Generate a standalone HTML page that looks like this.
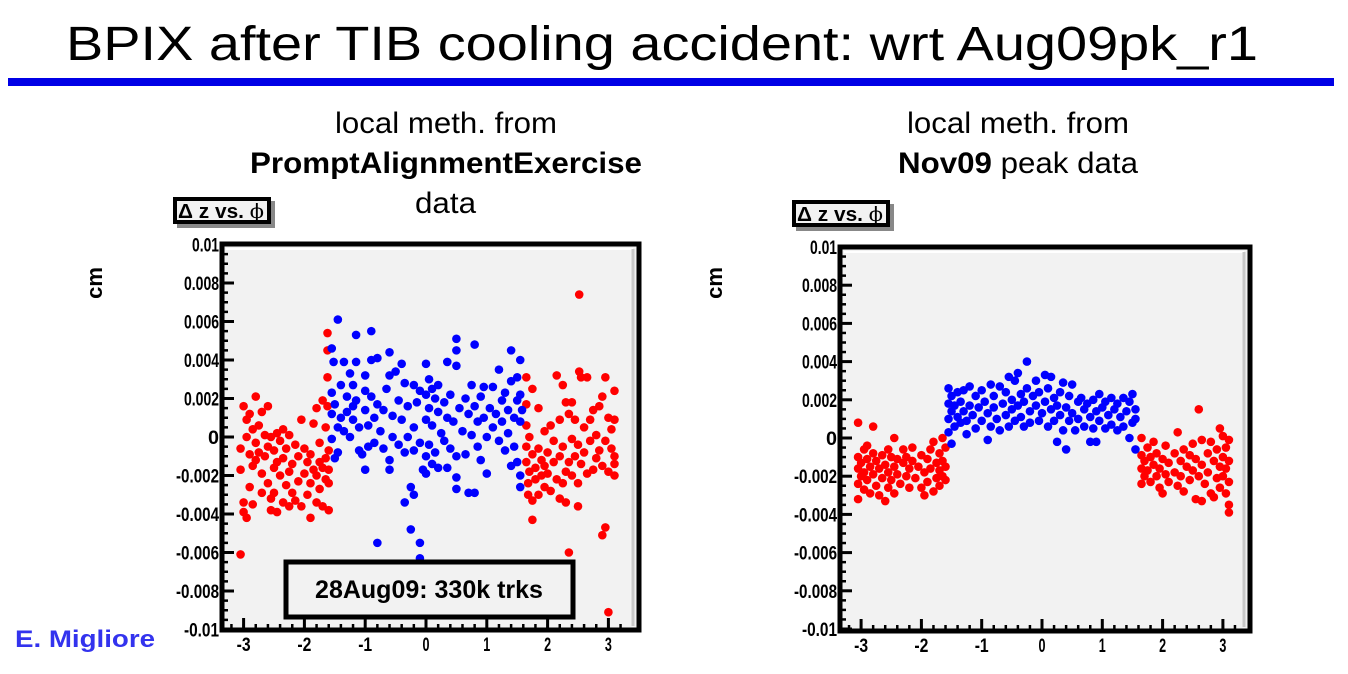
<!DOCTYPE html>
<html><head><meta charset="utf-8">
<style>
html,body{margin:0;padding:0;background:#fff;}
svg{display:block;font-family:"Liberation Sans",Arial,sans-serif;}
</style></head>
<body>
<svg id="page" width="1348" height="674" viewBox="0 0 1348 674" xmlns="http://www.w3.org/2000/svg">
<text x="66" y="60" font-size="48" textLength="1192" lengthAdjust="spacingAndGlyphs">BPIX after TIB cooling accident: wrt Aug09pk_r1</text>
<rect x="8" y="78" width="1326" height="8" fill="#0000e6"/>
<g font-size="30">
<text x="335" y="133" textLength="222" lengthAdjust="spacingAndGlyphs">local meth. from</text>
<text x="250" y="173" font-weight="bold" textLength="392" lengthAdjust="spacingAndGlyphs">PromptAlignmentExercise</text>
<text x="415" y="213" textLength="61" lengthAdjust="spacingAndGlyphs">data</text>
</g>
<g font-size="30">
<text x="907" y="133" textLength="222" lengthAdjust="spacingAndGlyphs">local meth. from</text>
<text x="898" y="173" textLength="240" lengthAdjust="spacingAndGlyphs"><tspan font-weight="bold">Nov09</tspan> peak data</text>
</g>
<text x="15" y="647" font-size="24" font-weight="bold" fill="#3333ee" textLength="140" lengthAdjust="spacingAndGlyphs">E. Migliore</text>
<g id="left"></g>
<g id="right"></g>
</svg>
<script>
// Left plot data: phi (rad), dz (in units of 1e-3 cm)
const leftRedPhi=[-3.05,-3.05,-3.0,-3.0,-3.0,-2.95,-3.05,-2.95,-2.95,-2.9,-2.9,-2.9,-2.85,-2.85,-2.85,-2.8,-2.8,-2.8,-2.75,-2.75,-2.7,-2.7,-2.7,-2.65,-2.65,-2.6,-2.6,-2.6,-2.55,-2.55,-2.55,-2.5,-2.5,-2.5,-2.45,-2.45,-2.45,-2.4,-2.4,-2.35,-2.35,-2.35,-2.3,-2.3,-2.25,-2.25,-2.25,-2.2,-2.2,-2.15,-2.15,-2.1,-2.1,-2.05,-2.05,-2.0,-2.0,-1.95,-1.95,-1.9,-1.9,-1.9,-1.85,-1.85,-1.8,-1.8,-1.8,-1.75,-1.75,-1.75,-1.7,-1.7,-1.7,-1.65,-1.65,-1.65,-1.62,-1.62,-1.62,-1.62,-1.6,-1.6,-1.6,-1.6,
1.65,1.65,1.65,1.65,1.65,1.68,1.68,1.7,1.7,1.75,1.75,1.75,1.75,1.8,1.8,1.85,1.85,1.85,1.9,1.9,1.95,1.95,1.95,2.0,2.0,2.05,2.05,2.1,2.1,2.15,2.15,2.2,2.2,2.2,2.25,2.25,2.25,2.3,2.3,2.3,2.35,2.35,2.35,2.4,2.4,2.4,2.45,2.45,2.5,2.5,2.5,2.52,2.52,2.55,2.55,2.6,2.6,2.65,2.65,2.7,2.7,2.75,2.75,2.8,2.8,2.85,2.85,2.9,2.9,2.9,2.95,2.95,2.95,3.0,3.0,3.0,3.05,3.05,3.1,3.1,3.1,3.1,3.1];
const leftRedDz=[-0.6,-1.7,1.6,-3.4,-3.9,-4.2,-6.1,0.9,0.0,-0.9,-2.6,1.2,0.4,-1.5,-3.5,2.1,-0.3,-1.2,0.6,-0.8,1.3,-1.9,-2.9,0.1,-1.0,1.6,-0.5,-2.4,0.0,-3.2,-3.8,-1.6,-0.7,-2.9,0.2,-1.3,-3.9,-0.2,-2.0,0.4,-1.1,-3.4,-0.6,-2.5,-1.8,0.1,-3.6,-1.4,-2.9,-0.4,-3.3,-1.0,-2.3,0.9,-3.6,-1.9,-0.6,-3.0,-1.3,-0.9,-2.4,-4.2,0.7,-1.7,-3.4,-2.0,1.5,-1.3,-0.3,-2.7,1.9,-1.6,-3.6,0.5,-2.2,-1.1,5.4,4.5,3.1,1.6,-0.7,-2.4,-3.8,-1.7,
3.1,1.7,0.6,-0.5,-1.3,-2.4,-3.0,-1.8,0.0,2.5,-0.9,-3.3,-4.3,-1.6,-2.2,1.5,-0.6,-3.0,-1.2,-2.0,0.3,-1.5,-2.6,-0.8,-1.9,0.6,-2.8,-1.3,-0.2,-2.2,3.2,-3.2,0.9,-1.0,2.7,-0.5,-2.4,1.8,-1.8,-3.4,1.2,-1.3,-6.0,-0.1,-2.0,1.8,-1.0,0.9,-0.4,-2.4,-3.6,7.4,3.4,3.1,-1.4,0.5,-0.8,3.1,-1.9,0.9,-0.2,1.4,-1.7,0.1,-1.1,1.6,-0.7,2.1,-1.5,-5.1,3.1,-4.7,-0.2,-9.1,1.0,-1.8,0.4,-0.6,2.4,-1.0,-2.0,0.9,-1.4];
const leftBluePhi=[-1.55,-1.55,-1.55,-1.55,-1.52,-1.5,-1.5,-1.45,-1.45,-1.45,-1.4,-1.4,-1.35,-1.35,-1.3,-1.3,-1.25,-1.25,-1.2,-1.2,-1.2,-1.15,-1.15,-1.15,-1.1,-1.1,-1.05,-1.0,-1.0,-1.0,-1.0,-0.95,-0.95,-0.9,-0.9,-0.9,-0.85,-0.85,-0.8,-0.8,-0.8,-0.75,-0.7,-0.7,-0.65,-0.6,-0.6,-0.6,-0.6,-0.55,-0.55,-0.5,-0.45,-0.45,-0.4,-0.4,-0.35,-0.35,-0.35,-0.3,-0.3,-0.25,-0.25,-0.2,-0.2,-0.2,-0.2,-0.15,-0.1,-0.1,-0.1,-0.1,-0.05,0.0,0.0,0.0,0.0,0.0,0.05,0.05,0.05,0.1,0.1,0.1,0.15,0.15,0.2,0.2,0.2,0.25,0.3,0.3,0.35,0.35,0.35,0.4,0.4,0.45,0.5,0.5,0.5,0.5,0.5,0.5,0.55,0.6,0.65,0.65,0.7,0.7,0.75,0.75,0.8,0.8,0.8,0.85,0.85,0.9,0.9,0.95,0.95,1.0,1.0,1.05,1.1,1.1,1.15,1.2,1.2,1.25,1.25,1.3,1.3,1.35,1.35,1.4,1.4,1.4,1.45,1.45,1.5,1.5,1.5,1.55,1.55,1.55,1.55,1.55,1.58];
const leftBlueDz=[4.6,2.3,1.2,-0.1,3.9,1.7,-1.1,6.1,0.5,-0.8,2.7,1.0,3.9,0.3,2.1,1.3,3.3,0.0,2.7,1.6,0.9,5.3,3.9,1.9,0.5,-0.7,-0.9,3.2,2.4,1.4,-1.7,0.6,-0.5,5.5,4.0,2.1,1.0,-0.3,1.7,4.1,-5.5,0.3,1.4,-0.6,2.5,4.4,3.2,-1.2,-1.7,1.1,0.0,3.4,1.9,-0.4,3.8,0.9,2.8,-0.8,-3.4,1.6,0.0,-2.6,-4.8,2.7,0.5,-0.7,-3.0,1.8,-0.3,2.4,-5.5,-6.3,-1.7,3.8,2.2,0.9,-1.0,-1.9,3.0,1.5,-0.4,2.5,0.6,-1.4,2.0,-0.8,1.3,2.7,-1.6,0.2,1.8,-0.2,3.9,1.0,-1.6,2.2,-0.6,0.8,5.1,4.5,3.7,-1.0,-2.1,-2.7,1.5,0.3,2.0,-0.9,1.2,-2.9,2.7,0.1,4.8,1.6,-2.9,-0.5,0.8,2.1,-1.2,1.0,2.6,0.0,-1.9,1.5,2.6,0.5,1.2,3.5,-0.2,1.9,0.8,-0.7,2.3,1.4,0.2,4.5,2.9,-1.5,1.0,-0.5,3.1,1.9,-1.3,4.0,2.2,0.8,-2.0,-2.6,1.4];
// Right plot data
const rightRedPhi=[-3.05,-3.05,-3.05,-3.05,-3.05,-3.0,-3.0,-2.95,-2.95,-2.95,-2.9,-2.9,-2.85,-2.85,-2.8,-2.8,-2.8,-2.75,-2.75,-2.7,-2.7,-2.65,-2.65,-2.6,-2.6,-2.55,-2.55,-2.5,-2.5,-2.45,-2.45,-2.45,-2.4,-2.4,-2.35,-2.3,-2.3,-2.25,-2.2,-2.2,-2.15,-2.15,-2.1,-2.05,-2.0,-2.0,-1.95,-1.95,-1.9,-1.9,-1.85,-1.85,-1.8,-1.8,-1.75,-1.75,-1.7,-1.7,-1.7,-1.65,-1.65,-1.65,-1.6,-1.6,-1.6,-2.25,-2.55,-2.9,
1.65,1.65,1.65,1.65,1.7,1.7,1.75,1.75,1.8,1.8,1.85,1.85,1.9,1.9,1.95,1.95,2.0,2.0,2.05,2.05,2.1,2.1,2.2,2.2,2.25,2.25,2.3,2.3,2.35,2.35,2.4,2.45,2.45,2.5,2.5,2.55,2.55,2.6,2.6,2.65,2.65,2.65,2.7,2.75,2.75,2.8,2.8,2.85,2.85,2.9,2.9,2.95,2.95,2.95,3.0,3.0,3.0,3.05,3.05,3.05,3.1,3.1,3.1,3.1,3.1];
const rightRedDz=[0.8,-1.0,-1.6,-2.4,-3.2,-1.3,-2.0,-0.6,-1.8,-2.7,-1.1,-2.2,-1.5,-2.9,0.6,-0.8,-1.9,-1.2,-2.5,-1.6,-3.0,-0.9,-2.1,-1.4,-3.3,-1.8,-2.6,-1.0,-2.2,0.0,-1.5,-2.9,-1.9,-1.1,-2.4,-1.3,-0.6,-2.0,-1.6,-2.6,-0.5,-1.2,-2.1,-1.5,-2.6,-0.9,-1.8,-3.0,-1.1,-2.3,-0.6,-1.6,-2.8,-0.2,-1.3,-2.1,-0.8,-1.7,-2.5,0.0,-1.2,-2.0,-0.5,-1.5,-2.2,-1.0,-0.6,-0.4,
0.0,-0.9,-1.6,-2.4,-1.2,-2.0,-0.5,-1.7,-2.3,-1.0,-1.4,-0.2,-2.0,-0.8,-1.6,-2.6,-1.1,-2.9,-0.4,-1.9,-1.3,-2.3,-0.8,-1.8,0.3,-2.5,-1.2,-2.0,-0.6,-2.8,-1.5,-0.9,-2.2,-1.7,-0.3,-3.2,-1.1,-2.0,1.5,-0.1,-3.3,-1.4,-2.4,-0.8,-1.8,-2.9,-0.2,-1.2,-3.1,-2.1,-0.6,0.5,-1.5,-2.6,0.1,-1.0,-2.0,-2.9,-0.5,-1.6,-3.5,-3.9,-1.2,-2.3,-0.1];
const rightBluePhi=[-1.55,-1.55,-1.55,-1.55,-1.5,-1.5,-1.5,-1.45,-1.45,-1.4,-1.4,-1.35,-1.35,-1.3,-1.3,-1.25,-1.25,-1.2,-1.2,-1.15,-1.1,-1.1,-1.05,-1.0,-1.0,-0.95,-0.9,-0.9,-0.85,-0.85,-0.8,-0.8,-0.75,-0.7,-0.7,-0.65,-0.6,-0.6,-0.55,-0.55,-0.5,-0.5,-0.45,-0.45,-0.4,-0.4,-0.35,-0.35,-0.3,-0.3,-0.25,-0.25,-0.2,-0.2,-0.15,-0.1,-0.1,-0.05,-0.05,0.0,0.05,0.05,0.1,0.1,0.15,0.15,0.2,0.2,0.25,0.25,0.3,0.3,0.35,0.35,0.4,0.4,0.45,0.45,0.5,0.5,0.55,0.6,0.6,0.65,0.7,0.7,0.75,0.8,0.8,0.85,0.85,0.9,0.9,0.95,0.95,1.0,1.05,1.05,1.1,1.15,1.15,1.2,1.25,1.25,1.3,1.35,1.35,1.4,1.45,1.45,1.5,1.5,1.55,1.55,1.55];
const rightBlueDz=[2.6,1.8,1.0,0.3,2.2,1.4,-0.3,0.6,1.7,2.4,1.1,0.8,1.9,1.4,2.5,0.9,0.2,1.7,2.7,1.2,2.2,0.5,1.6,2.5,0.9,1.9,1.3,-0.1,2.8,0.6,1.6,2.2,1.0,2.7,0.4,1.8,1.2,2.4,3.2,0.6,1.5,2.0,3.0,0.9,1.7,3.4,2.3,1.1,0.6,1.9,4.0,2.6,1.4,0.8,2.2,3.0,1.7,0.9,2.4,1.3,3.3,1.9,0.6,2.6,1.5,3.2,2.1,0.9,1.7,-0.2,2.4,1.2,2.9,0.4,-0.6,1.6,2.2,0.9,2.8,1.3,0.4,1.9,1.0,2.1,1.5,0.6,1.8,-0.2,1.1,2.0,0.5,1.4,-0.2,2.3,0.9,1.6,0.5,1.9,1.2,2.1,0.7,1.5,0.4,1.8,1.1,2.1,0.6,1.4,0.0,1.9,0.8,2.3,1.5,-0.6,1.0];
const yTickLabels=["0.01","0.008","0.006","0.004","0.002","0","-0.002","-0.004","-0.006","-0.008","-0.01"];
const yTickValues=[0.01,0.008,0.006,0.004,0.002,0,-0.002,-0.004,-0.006,-0.008,-0.01];
const xTickValues=[-3,-2,-1,0,1,2,3];
const xTickLabels=["-3","-2","-1","0","1","2","3"];

const NS="http://www.w3.org/2000/svg";
function mk(parent,tag,attrs,txt){const e=document.createElementNS(NS,tag);for(const k in attrs)e.setAttribute(k,attrs[k]);if(txt!==undefined)e.textContent=txt;parent.appendChild(e);return e;}

function drawPlot(g,cfg){
  const L=cfg.L,T=cfg.T,R=cfg.R,B=cfg.B;
  const xS=v=>cfg.x0+v*cfg.xk;
  const yS=v=>cfg.y0-v*cfg.yk;
  const tb=mk(g,'g',{});
  
  
  mk(tb,'rect',{x:cfg.tbx+4,y:cfg.tby+4,width:98,height:27,fill:'#888'});
  mk(tb,'rect',{x:cfg.tbx,y:cfg.tby,width:98,height:27,fill:'#000'});
  mk(tb,'rect',{x:cfg.tbx+4,y:cfg.tby+4,width:90,height:19,fill:'#f2f2f2'});
  const tt=mk(tb,'text',{x:cfg.tbx+5,y:cfg.tby+21,'font-size':20,'font-weight':'bold',textLength:86,lengthAdjust:'spacingAndGlyphs'});
  tt.textContent='Δ z vs. ';
  mk(tt,'tspan',{'font-weight':'normal','font-family':'"DejaVu Serif",serif'},'ϕ');
  const yt=mk(g,'text',{x:0,y:0,'font-size':22,'font-weight':'bold','text-anchor':'middle',transform:`translate(${cfg.cmx},${cfg.cmy}) rotate(-90)`},'cm');
  
  
  const fr=mk(g,'rect',{x:L,y:T,width:R-L,height:B-T,fill:'#f2f2f2',stroke:'#000','stroke-width':5});
  
  
  mk(g,'line',{x1:L+4,y1:T+5,x2:R-6,y2:T+5,stroke:'#fff','stroke-width':2});
  mk(g,'line',{x1:R-6,y1:T+5,x2:R-6,y2:B-4,stroke:'#c8c8c8','stroke-width':3});
  const ya=mk(g,'g',{});
  
  
  for(let i=0;i<=40;i++){const v=-0.01+i*0.0005;const y=yS(v);const major=(i%4===0);
    mk(ya,'line',{x1:L,y1:y,x2:L+(major?12:6),y2:y,stroke:'#000','stroke-width':major?3:2.5});}
  yTickValues.forEach((v,i)=>{const s=yTickLabels[i];
    const w=s.replace('.','').length*8+3;
    const t=mk(ya,'text',{x:L-3,y:yS(v)+7,'font-size':19,'font-weight':'bold','text-anchor':'end',textLength:w,lengthAdjust:'spacingAndGlyphs'},s);
    
    });
  const xa=mk(g,'g',{});
  
  
  for(let v=-3.2;v<=3.25;v+=0.2){const x=xS(v);mk(xa,'line',{x1:x,y1:B,x2:x,y2:B-6,stroke:'#000','stroke-width':2.5});}
  xTickValues.forEach((v,i)=>{const x=xS(v);mk(xa,'line',{x1:x,y1:B,x2:x,y2:B-12,stroke:'#000','stroke-width':3});
    const s=xTickLabels[i];
    const t=mk(xa,'text',{x:x,y:B+21,'font-size':19,'font-weight':'bold','text-anchor':'middle',textLength:s.length*7,lengthAdjust:'spacingAndGlyphs'},s);
    
    });
  const pts=mk(g,'g',{});
  
  
  const series=[[cfg.redPhi,cfg.redDz,'#ff0000','red'],[cfg.bluePhi,cfg.blueDz,'#0000ff','blue']];
  series.forEach(s=>{for(let i=0;i<s[0].length;i++){const y=yS(s[1][i]*0.001);if(y<T||y>B)continue;
    const c=mk(pts,'circle',{cx:xS(s[0][i]),cy:y,r:4.3,fill:s[2]});
    
    }});
}
drawPlot(document.getElementById('left'),{L:222,T:244,R:639,B:630,x0:426,xk:60.8,y0:437,yk:19250,
  tbx:173,tby:197,cmx:102,cmy:283,redPhi:leftRedPhi,redDz:leftRedDz,bluePhi:leftBluePhi,blueDz:leftBlueDz});
drawPlot(document.getElementById('right'),{L:840,T:247,R:1250,B:631,x0:1042,xk:60.3,y0:438,yk:19100,
  tbx:792,tby:200,cmx:722,cmy:283,redPhi:rightRedPhi,redDz:rightRedDz,bluePhi:rightBluePhi,blueDz:rightBlueDz});
const lg=document.getElementById('left');
const sb=mk(lg,'g',{});


mk(sb,'rect',{x:286,y:562,width:287,height:55,fill:'#f2f2f2',stroke:'#000','stroke-width':5});
mk(sb,'text',{x:429,y:598,'font-size':25,'font-weight':'bold','text-anchor':'middle'},'28Aug09: 330k trks');
</script>
</body></html>
